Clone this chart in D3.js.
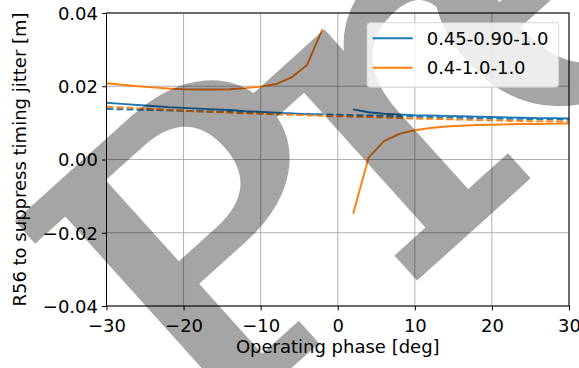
<!DOCTYPE html>
<html>
<head>
<meta charset="utf-8">
<script src="https://cdn.jsdelivr.net/npm/d3@7"></script>
<style>
  body { margin: 0; background: #fff; }
  svg { display: block; font-family: "DejaVu Sans", sans-serif; }
</style>
</head>
<body>
<svg id="chart" width="579" height="368"></svg>
<script>
// operating phase [deg], two branches either side of 0
let phaseLeft = [-30, -28, -26, -24, -22, -20, -18, -16, -14, -12, -10, -8, -6, -4, -2];
let phaseRight = [2, 4, 6, 8, 10, 12, 14, 16, 18, 20, 22, 24, 26, 28, 30];
let phaseAll = [-30, -28, -26, -24, -22, -20, -18, -16, -14, -12, -10, -8, -6, -4, -2, 0,
  2, 4, 6, 8, 10, 12, 14, 16, 18, 20, 22, 24, 26, 28, 30];

// 0.45-0.90-1.0
let blueLeft = [0.0155, 0.0152, 0.0149, 0.0146, 0.0143, 0.0141, 0.0139, 0.0137, 0.0135, 0.0132, 0.0130, 0.0128, 0.0126, 0.0124, 0.0122];
let blueRight = [0.0137, 0.0129, 0.0125, 0.0123, 0.0121, 0.0120, 0.0119, 0.0118, 0.0117, 0.0116, 0.0115, 0.0114, 0.0113, 0.0113, 0.0112];
let blueDashed = [0.0138, 0.0137, 0.0136, 0.0135, 0.0134, 0.0133, 0.0132, 0.0131, 0.0130, 0.0129, 0.0127, 0.0126, 0.0125, 0.0124, 0.0123, 0.0122,
  0.0121, 0.0120, 0.0119, 0.0118, 0.0117, 0.0116, 0.0115, 0.0114, 0.0113, 0.0112, 0.0111, 0.0111, 0.0110, 0.0110, 0.0109];

// 0.4-1.0-1.0
let orangeLeft = [0.0208, 0.0204, 0.0200, 0.0197, 0.0194, 0.0192, 0.0191, 0.0191, 0.0192, 0.0195, 0.0199, 0.0206, 0.0224, 0.0258, 0.0355];
let orangeRight = [-0.0148, 0.0005, 0.0050, 0.0070, 0.0080, 0.0086, 0.0090, 0.0092, 0.0094, 0.0095, 0.0096, 0.0097, 0.0097, 0.0098, 0.0098];
let orangeDashed = [0.0144, 0.0142, 0.0140, 0.0138, 0.0135, 0.0133, 0.0131, 0.0130, 0.0128, 0.0126, 0.0125, 0.0123, 0.0122, 0.0121, 0.0119, 0.0118,
  0.0117, 0.0116, 0.0115, 0.0113, 0.0112, 0.0111, 0.0110, 0.0109, 0.0108, 0.0107, 0.0106, 0.0105, 0.0104, 0.0104, 0.0103];

let legendLabels = ["0.45-0.90-1.0", "0.4-1.0-1.0"];
let xTicks = [-30, -20, -10, 0, 10, 20, 30];
let yTicks = [-0.04, -0.02, 0.00, 0.02, 0.04];

// watermark letters: offset along / across the rotated baseline, and size
let markLetters = ["P", "r", "e"];
let markX = [-10, 224, 385];
let markY = [0, 19, 10];
let markSize = [390, 460, 440];

let blue = "#1f77b4", orange = "#ff7f0e";
let fontSize = 18;

let svg = d3.select("#chart");
let plotLeft = 106.5, plotRight = 569, plotTop = 13, plotBottom = 306;

let x = d3.scaleLinear().domain([-30, 30]).range([plotLeft, plotRight]);
let y = d3.scaleLinear().domain([-0.04, 0.04]).range([plotBottom, plotTop]);

// grid
let grid = svg.append("g");
grid.selectAll(".gx").data(xTicks).enter().append("line")
  .attr("x1", d => x(d)).attr("x2", d => x(d))
  .attr("y1", plotTop).attr("y2", plotBottom)
  .attr("stroke", "#b0b0b0").attr("stroke-width", 1);
grid.selectAll(".gy").data(yTicks).enter().append("line")
  .attr("x1", plotLeft).attr("x2", plotRight)
  .attr("y1", d => y(d)).attr("y2", d => y(d))
  .attr("stroke", "#b0b0b0").attr("stroke-width", 1);

svg.append("clipPath").attr("id", "plotclip").append("rect")
  .attr("x", plotLeft).attr("y", plotTop).attr("width", plotRight - plotLeft).attr("height", plotBottom - plotTop);

let line = d3.line().x(d => x(d[0])).y(d => y(d[1]));
let zip = (xs, ys) => xs.map((v, i) => [v, ys[i]]);

let lines = svg.append("g").attr("clip-path", "url(#plotclip)");
function drawLine(xs, ys, color, dashed) {
  lines.append("path")
    .datum(zip(xs, ys))
    .attr("d", line)
    .attr("fill", "none")
    .attr("stroke", color)
    .attr("stroke-width", 1.9)
    .attr("stroke-linejoin", "round")
    .attr("stroke-dasharray", dashed ? "7,3" : null);
}
drawLine(phaseLeft, blueLeft, blue, false);
drawLine(phaseRight, blueRight, blue, false);
drawLine(phaseAll, blueDashed, blue, true);
drawLine(phaseLeft, orangeLeft, orange, false);
drawLine(phaseRight, orangeRight, orange, false);
drawLine(phaseAll, orangeDashed, orange, true);

// axes
let fmtY = d => d3.format(".2f")(d).replace("-", "\u2212");
let fmtX = d => String(d).replace("-", "\u2212");

let xAxis = svg.append("g").attr("transform", `translate(0,${plotBottom})`)
  .call(d3.axisBottom(x).tickValues(xTicks).tickSize(4.4).tickPadding(4).tickFormat(fmtX));
let yAxis = svg.append("g").attr("transform", `translate(${plotLeft},0)`)
  .call(d3.axisLeft(y).tickValues(yTicks).tickSize(4.4).tickPadding(4).tickFormat(fmtY));
[xAxis, yAxis].forEach(a => {
  a.select(".domain").remove();
  a.selectAll("line").attr("stroke", "#000").attr("stroke-width", 1);
  a.selectAll("text").attr("font-family", "DejaVu Sans").attr("font-size", fontSize).attr("fill", "#000");
});
xAxis.selectAll("text").attr("dy", null).attr("y", 26);
yAxis.selectAll("text").attr("x", -8.5).attr("dy", "0.36em");

svg.append("rect")
  .attr("x", plotLeft).attr("y", plotTop).attr("width", plotRight - plotLeft).attr("height", plotBottom - plotTop)
  .attr("fill", "none").attr("stroke", "#000").attr("stroke-width", 1);

svg.append("text")
  .attr("x", (plotLeft + plotRight) / 2).attr("y", 353)
  .attr("text-anchor", "middle").attr("font-size", fontSize)
  .text("Operating phase [deg]");
svg.append("text")
  .attr("transform", `translate(26,${(plotTop + plotBottom) / 2}) rotate(-90)`)
  .attr("text-anchor", "middle").attr("font-size", fontSize)
  .text("R56 to suppress timing jitter [m]");

// watermark (group opacity so fill + stroke do not double up)
let mark = svg.append("g")
  .attr("opacity", 0.35)
  .attr("transform", "translate(203,441) rotate(-42) scale(1.12,1)")
  .append("text")
  .attr("font-family", "DejaVu Serif")
  .attr("fill", "#000").attr("stroke", "#000").attr("stroke-width", 10);
mark.selectAll("tspan").data(markLetters).enter().append("tspan")
  .attr("x", (d, i) => markX[i]).attr("y", (d, i) => markY[i])
  .attr("font-size", (d, i) => markSize[i])
  .text(d => d);

// legend
let legend = svg.append("g");
legend.append("rect")
  .attr("x", 367).attr("y", 22.7).attr("width", 191.7).attr("height", 64.6)
  .attr("rx", 3).attr("fill", "rgba(255,255,255,0.8)")
  .attr("stroke", "rgba(204,204,204,0.8)").attr("stroke-width", 1);
let legendColors = [blue, orange];
legendLabels.forEach((lab, i) => {
  let ly = 38.3 + i * 29.4;
  legend.append("line")
    .attr("x1", 372.7).attr("x2", 412.7).attr("y1", ly).attr("y2", ly)
    .attr("stroke", legendColors[i]).attr("stroke-width", 1.9);
  legend.append("text")
    .attr("x", 426.7).attr("y", ly).attr("dy", "0.36em")
    .attr("font-size", fontSize).text(lab);
});
</script>
</body>
</html>
